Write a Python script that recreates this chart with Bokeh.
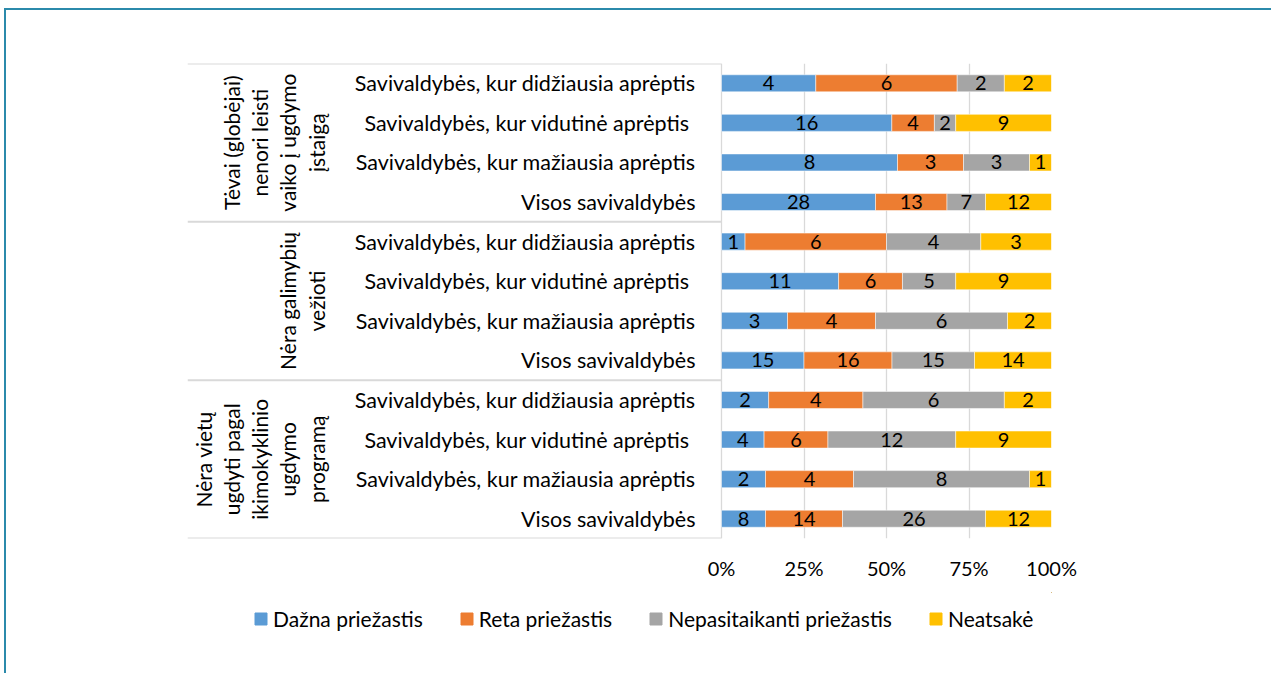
import numpy as np
from bokeh.plotting import figure
from bokeh.layouts import column
from bokeh.models import (ColumnDataSource, FactorRange, FixedTicker, NumeralTickFormatter,
                          Legend, LegendItem, Range1d)
from bokeh.core.properties import value
from bokeh.embed import file_html
from bokeh.resources import INLINE

# ---------------- data ----------------
groups = ["Tėvai (globėjai) nenori leisti vaiko į ugdymo įstaigą",
          "Nėra galimybių vežioti",
          "Nėra vietų ugdyti pagal ikimokyklinio ugdymo programą"]
group_labels = ["Tėvai (globėjai)\nnenori leisti\nvaiko į ugdymo\nįstaigą",
                "Nėra galimybių\nvežioti",
                "Nėra vietų\nugdyti pagal\nikimokyklinio\nugdymo\nprogramą"]
categories = ["Savivaldybės, kur didžiausia aprėptis",
              "Savivaldybės, kur vidutinė  aprėptis",
              "Savivaldybės, kur mažiausia aprėptis",
              "Visos savivaldybės"]
series = ["Dažna priežastis", "Reta priežastis", "Nepasitaikanti priežastis", "Neatsakė"]
colors = ["#5b9bd5", "#ed7d31", "#a5a5a5", "#ffc000"]

# rows in order: group1 (4 categories), group2, group3
dazna = [4, 16, 8, 28, 1, 11, 3, 15, 2, 4, 2, 8]
reta = [6, 4, 3, 13, 6, 6, 4, 16, 4, 6, 4, 14]
nepasitaikanti = [2, 2, 3, 7, 4, 5, 6, 15, 6, 12, 8, 26]
neatsake = [2, 9, 1, 12, 3, 9, 2, 14, 2, 9, 1, 12]
ticks = [0, 0.25, 0.5, 0.75, 1.0]

# ---------------- layout constants (page pixels) ----------------
W, H_MAIN, H_LEG = 1255, 592, 65
FRAME_L, FRAME_R, FRAME_T, FRAME_B = 187, 1051, 63, 538
ZERO_PX = 721
SCALE = (FRAME_R - ZERO_PX)  # px per unit (100%)

def px2x(px):
    return (px - ZERO_PX) / SCALE

FONT = "Lato"

factors = [(g, c) for g in groups for c in categories]
counts = np.array([dazna, reta, nepasitaikanti, neatsake], dtype=float)
totals = counts.sum(axis=0)
fracs = counts / totals
cum = np.vstack([np.zeros(len(factors)), np.cumsum(fracs, axis=0)])

p = figure(width=W, height=H_MAIN, output_backend="svg", toolbar_location=None,
           x_range=Range1d(px2x(FRAME_L), px2x(FRAME_R)),
           y_range=FactorRange(factors=list(reversed(factors)), range_padding=0,
                               group_padding=0, factor_padding=0),
           min_border_left=FRAME_L, min_border_right=W - FRAME_R,
           min_border_top=FRAME_T, min_border_bottom=H_MAIN - FRAME_B)
p.outline_line_color = None
p.yaxis.visible = False
p.ygrid.visible = False
p.xgrid.ticker = FixedTicker(ticks=ticks)
p.xgrid.grid_line_color = "#d9d9d9"
p.xgrid.grid_line_width = 1.3
p.xaxis.ticker = FixedTicker(ticks=ticks)
p.xaxis.formatter = NumeralTickFormatter(format="0%")
p.xaxis.axis_line_color = None
p.xaxis.major_tick_line_color = None
p.xaxis.minor_tick_line_color = None
p.xaxis.major_tick_out = 0
p.xaxis.major_label_standoff = 17
p.xaxis.major_label_text_font = FONT
p.xaxis.major_label_text_font_size = "20px"
p.xaxis.major_label_text_color = "#000000"

for i, s in enumerate(series):
    src = ColumnDataSource(dict(y=factors, left=cum[i], right=cum[i + 1],
                                mid=(cum[i] + cum[i + 1]) / 2,
                                lab=[str(int(v)) for v in counts[i]]))
    p.hbar(y="y", left="left", right="right", height=0.43, source=src,
           fill_color=colors[i], line_color="white", line_width=0.5)
    p.text(x="mid", y="y", text="lab", source=src, text_align="center",
           text_baseline="middle", text_font=value(FONT), text_font_size="20px",
           text_color="#000000")

# category labels
p.text(x=[px2x(695)] * len(factors), y=factors, text=[c for g, c in factors],
       text_align="right", text_baseline="middle", text_font=value(FONT),
       text_font_size="21.5px", text_color="#000000")

# group labels (rotated)
p.text(x=[px2x(328)] * len(groups), y=groups, text=group_labels, angle=np.pi / 2,
       text_align="center", text_baseline="bottom", text_font=value(FONT),
       text_font_size="21px", text_line_height=1.13, text_color="#000000")

# group separators
sep_y = [(groups[0], categories[0], 0.5)] + [(g, categories[-1], -0.5) for g in groups]
p.segment(x0=[px2x(FRAME_L)] * 4, x1=[0] * 4, y0=sep_y, y1=sep_y,
          line_color="#d9d9d9", line_width=2)

# ---------------- legend strip ----------------
pl = figure(width=W, height=H_LEG, output_backend="svg", toolbar_location=None,
            x_range=Range1d(0, 1), y_range=Range1d(0, 1), min_border=0)
pl.axis.visible = False
pl.grid.visible = False
pl.outline_line_color = None
# swatch renderers (placed outside the visible range; only their legend glyphs show)
leg_renderers = [pl.hbar(y=[50], left=[50], right=[51], height=0.5, fill_color=c, line_color=c)
                 for c in colors]
legend = Legend(items=[LegendItem(label=s, renderers=[r]) for s, r in zip(series, leg_renderers)],
                orientation="horizontal", location=(66, 26),
                border_line_color=None, background_fill_alpha=0,
                glyph_width=15, glyph_height=15, label_standoff=5, spacing=36,
                label_text_font=FONT, label_text_font_size="21px",
                label_text_color="#000000", padding=0, margin=0)
pl.add_layout(legend, "center")

layout = column(p, pl, spacing=0)

html = file_html(layout, INLINE)
frame_div = ('<div style="position:fixed;left:4px;top:8px;width:3000px;height:3000px;'
             'border-top:2px solid #2b8aab;border-left:2px solid #2b8aab;'
             'pointer-events:none;z-index:10"></div>')
html = html.replace("</body>", frame_div + "</body>", 1)
open("out.html", "w").write(html)
